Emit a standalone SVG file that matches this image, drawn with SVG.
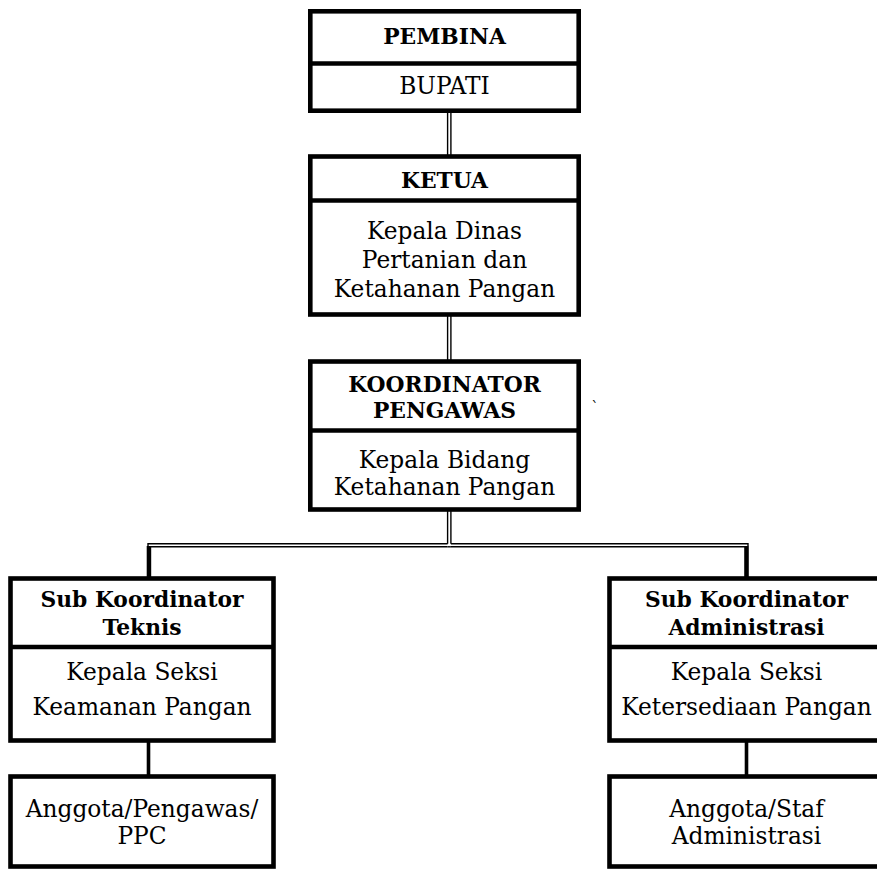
<svg xmlns="http://www.w3.org/2000/svg" width="877" height="869" viewBox="0 0 877 869">
<style>
.box{fill:#fff;stroke:#000;stroke-width:4.6}
.div{stroke:#000;stroke-width:4.6}
.dbl{stroke:#000;stroke-width:1.4;fill:none}
.sol{stroke:#000;stroke-width:3.6;fill:none}
text{font-family:"DejaVu Serif","Liberation Serif",serif;fill:#000;text-anchor:middle}
.h{font-weight:bold;font-size:21.8px}
.t{font-size:23.3px}
</style>
<rect width="877" height="869" fill="#fff"/>
<g id="connectors">
<line class="dbl" x1="447.6" y1="112" x2="447.6" y2="155"/>
<line class="dbl" x1="450.9" y1="112" x2="450.9" y2="155"/>
<line class="dbl" x1="447.6" y1="316" x2="447.6" y2="360"/>
<line class="dbl" x1="450.9" y1="316" x2="450.9" y2="360"/>
<line class="dbl" x1="447.6" y1="511" x2="447.6" y2="543.8"/>
<line class="dbl" x1="450.9" y1="511" x2="450.9" y2="543.8"/>
<polyline class="dbl" points="148,578 148,543.8 447.6,543.8"/>
<polyline class="dbl" points="150.5,578 150.5,546.8 447.6,546.8"/>
<polyline class="dbl" points="450.9,543.8 748,543.8 748,578"/>
<polyline class="dbl" points="450.9,546.8 745,546.8 745,578"/>
<line class="dbl" x1="447.6" y1="546.8" x2="450.9" y2="546.8"/>
<line class="sol" x1="148.5" y1="546" x2="148.5" y2="578"/>
<line class="sol" x1="746.5" y1="546" x2="746.5" y2="578"/>
<line class="sol" x1="148.5" y1="741" x2="148.5" y2="777"/>
<line class="sol" x1="746.5" y1="741" x2="746.5" y2="777"/>
</g>
<g id="pembina">
<rect class="box" x="310.3" y="11.3" width="268.4" height="99.4"/>
<line class="div" x1="310" y1="63.5" x2="579" y2="63.5"/>
<text class="h" x="444.5" y="44">PEMBINA</text>
<text class="t" x="444.5" y="94">BUPATI</text>
</g>
<g id="ketua">
<rect class="box" x="310.3" y="156.5" width="268.4" height="158"/>
<line class="div" x1="310" y1="200.5" x2="579" y2="200.5"/>
<text class="h" x="444.5" y="188">KETUA</text>
<text class="t" x="444.5" y="239">Kepala Dinas</text>
<text class="t" x="444.5" y="268">Pertanian dan</text>
<text class="t" x="444.5" y="297">Ketahanan Pangan</text>
</g>
<g id="koordinator">
<rect class="box" x="310.3" y="361.5" width="268.4" height="148"/>
<line class="div" x1="310" y1="430.5" x2="579" y2="430.5"/>
<text class="h" x="444.5" y="392">KOORDINATOR</text>
<text class="h" x="444.5" y="418">PENGAWAS</text>
<text class="t" x="444.5" y="468">Kepala Bidang</text>
<text class="t" x="444.5" y="495">Ketahanan Pangan</text>
</g>
<text class="t" x="595" y="412" style="font-size:14px">`</text>
<g id="sub-teknis">
<rect class="box" x="10.5" y="578.5" width="263" height="162"/>
<line class="div" x1="10" y1="647" x2="274" y2="647"/>
<text class="h" x="142" y="607">Sub Koordinator</text>
<text class="h" x="142" y="635">Teknis</text>
<text class="t" x="142" y="680">Kepala Seksi</text>
<text class="t" x="142" y="715">Keamanan Pangan</text>
</g>
<g id="sub-administrasi">
<rect class="box" x="609.5" y="578.5" width="273" height="162"/>
<line class="div" x1="609" y1="647" x2="883" y2="647"/>
<text class="h" x="746.5" y="607">Sub Koordinator</text>
<text class="h" x="746.5" y="635">Administrasi</text>
<text class="t" x="746.5" y="680">Kepala Seksi</text>
<text class="t" x="746.5" y="715">Ketersediaan Pangan</text>
</g>
<g id="anggota-teknis">
<rect class="box" x="10.5" y="776.5" width="263" height="90"/>
<text class="t" x="142" y="817">Anggota/Pengawas/</text>
<text class="t" x="142" y="844">PPC</text>
</g>
<g id="anggota-administrasi">
<rect class="box" x="609.5" y="776.5" width="273" height="90"/>
<text class="t" x="746.5" y="817">Anggota/Staf</text>
<text class="t" x="746.5" y="844">Administrasi</text>
</g>
</svg>
